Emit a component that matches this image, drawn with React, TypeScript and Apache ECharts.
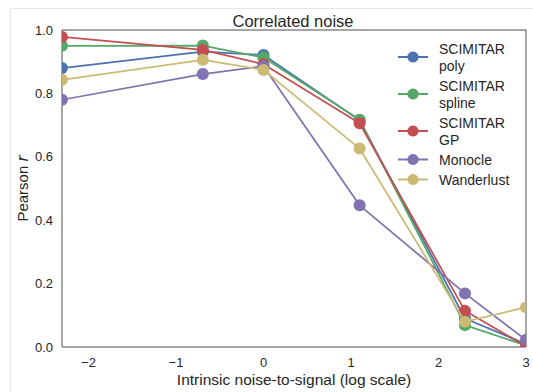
import React, { useEffect, useRef } from "react";
import * as echarts from "echarts";

// x positions: natural log of the noise-to-signal ratio (0.1, 0.5, 1, 3, 10, 20)
const xValues = [-2.3026, -0.6931, 0, 1.0986, 2.3026, 2.9957];
const seriesNames = ["SCIMITAR\npoly", "SCIMITAR\nspline", "SCIMITAR\nGP", "Monocle", "Wanderlust"];
const polyValues = [0.88, 0.932, 0.921, 0.715, 0.09, 0.01];
const splineValues = [0.95, 0.951, 0.913, 0.717, 0.069, 0.005];
const gpValues = [0.978, 0.937, 0.892, 0.706, 0.114, 0.003];
const monocleValues = [0.78, 0.861, 0.886, 0.447, 0.169, 0.023];
const wanderlustValues = [0.843, 0.906, 0.874, 0.626, 0.08, 0.125];
const xTicks = [-2, -1, 0, 1, 2, 3];
const colors = ["#4C72B0", "#55A868", "#C44E52", "#8172B2", "#CCB974"];

const X_MIN = -2.3026;
const X_MAX = 3;
const FONT = "'Liberation Sans', Arial, sans-serif";
const TEXT = "#262626";

export default function App() {
  const ref = useRef<HTMLDivElement>(null);
  useEffect(() => {
    if (!ref.current) return;
    const chart = echarts.init(ref.current, undefined, { renderer: "svg" });
    const allValues = [polyValues, splineValues, gpValues, monocleValues, wanderlustValues];
    const series: any[] = [];
    allValues.forEach((vals, i) => {
      const data = xValues.map((x, j) => [x, vals[j]]);
      series.push({
        type: "line",
        name: seriesNames[i],
        data,
        symbol: "none",
        clip: true,
        z: 2 + 2 * i,
        lineStyle: { width: 1.75, color: colors[i] },
        itemStyle: { color: colors[i] },
        emphasis: { disabled: true },
      });
      series.push({
        type: "custom",
        name: "markers" + i,
        data,
        clip: true,
        silent: true,
        z: 3 + 2 * i,
        encode: { x: 0, y: 1 },
        renderItem: (_params: any, api: any) => {
          const xv = api.value(0);
          const p = api.coord([xv, api.value(1)]);
          const atLeft = xv <= X_MIN + 0.001;
          const atRight = xv >= X_MAX - 0.01;
          if (atLeft || atRight) {
            const edgeX = api.coord([atLeft ? X_MIN : X_MAX, 0])[0];
            return {
              type: "sector",
              shape: {
                cx: edgeX,
                cy: p[1],
                r0: 0,
                r: 6,
                startAngle: atLeft ? -Math.PI / 2 : Math.PI / 2,
                endAngle: atLeft ? Math.PI / 2 : (3 * Math.PI) / 2,
                clockwise: true,
              },
              style: { fill: colors[i] },
            };
          }
          return {
            type: "circle",
            shape: { cx: p[0], cy: p[1], r: 6 },
            style: { fill: colors[i] },
          };
        },
      });
    });

    chart.setOption({
      animation: false,
      textStyle: { fontFamily: FONT },
      grid: {
        left: 62,
        right: 7,
        top: 30,
        bottom: 44,
        show: true,
        borderColor: "#4d4d4d",
        borderWidth: 1,
        backgroundColor: "transparent",
      },
      graphic: [
        {
          type: "rect",
          shape: { x: 10.5, y: 8.5, width: 700, height: 600 },
          style: { fill: "none", stroke: "#e6e6e6", lineWidth: 1 },
          silent: true,
        },
        {
          type: "text",
          x: 293,
          y: 21,
          style: {
            text: "Correlated noise",
            fontSize: 16.5,
            fontFamily: FONT,
            fill: TEXT,
            align: "center",
            verticalAlign: "middle",
            textAlign: "center",
            textVerticalAlign: "middle",
          },
          silent: true,
        },
      ],
      legend: {
        orient: "vertical",
        left: 397,
        top: 40,
        padding: 0,
        itemWidth: 30,
        itemHeight: 14,
        itemGap: 3,
        data: seriesNames,
        textStyle: {
          fontSize: 14,
          lineHeight: 17,
          color: TEXT,
          fontFamily: FONT,
          padding: [0, 0, 0, 6],
        },
      },
      xAxis: {
        type: "value",
        min: X_MIN,
        max: X_MAX,
        name: "Intrinsic noise-to-signal (log scale)",
        nameLocation: "middle",
        nameGap: 24,
        nameMoveOverlap: false,
        nameTextStyle: { fontSize: 15.5, color: TEXT, fontFamily: FONT },
        axisLine: { show: false },
        axisTick: { show: false },
        splitLine: { show: false },
        axisLabel: {
          customValues: xTicks,
          fontSize: 13,
          color: TEXT,
          margin: 9,
          fontFamily: FONT,
          formatter: (v: number) => (v < 0 ? "\u2212" + Math.abs(v) : String(v)),
        },
      },
      yAxis: {
        type: "value",
        min: 0,
        max: 1,
        interval: 0.2,
        name: "Pearson {i|r}",
        nameLocation: "middle",
        nameGap: 32,
        nameMoveOverlap: false,
        nameTextStyle: {
          fontSize: 15,
          color: TEXT,
          fontFamily: FONT,
          rich: {
            i: { fontSize: 15, fontStyle: "italic", fontFamily: "'DejaVu Sans'", color: TEXT },
          },
        },
        axisLine: { show: false },
        axisTick: { show: false },
        splitLine: { show: false },
        axisLabel: {
          fontSize: 13,
          color: TEXT,
          margin: 9,
          fontFamily: FONT,
          formatter: (v: number) => v.toFixed(1),
        },
      },
      series,
    });
    return () => chart.dispose();
  }, []);
  return (
    <div
      ref={ref}
      style={{ position: "absolute", left: 0, top: 0, width: 533, height: 392 }}
    />
  );
}
